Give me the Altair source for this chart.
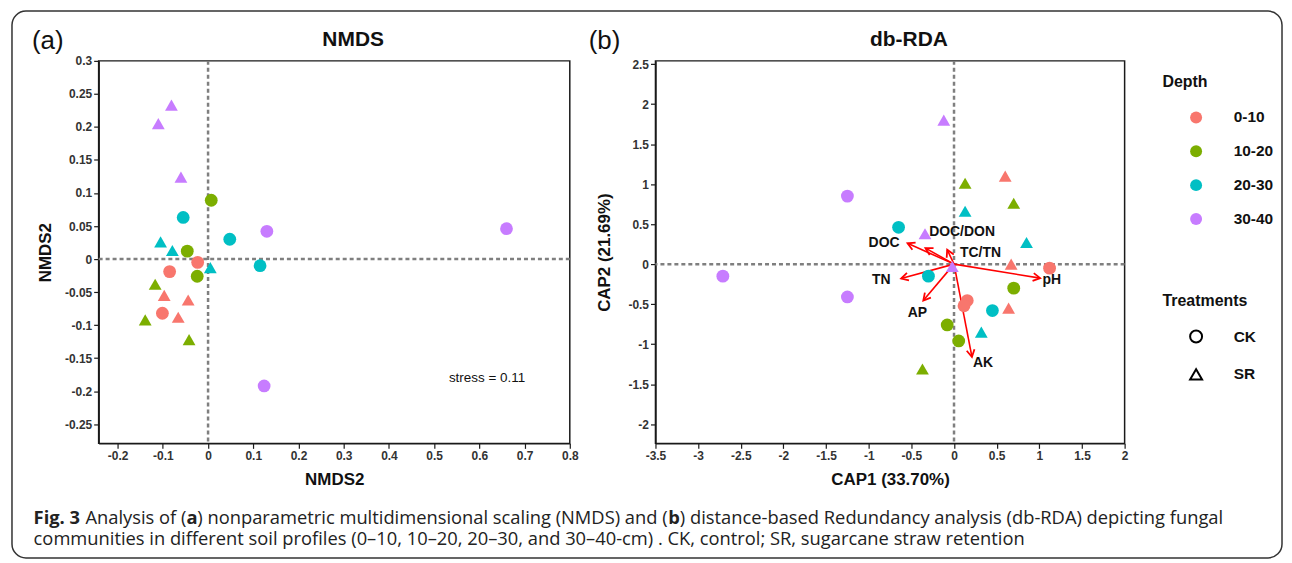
import math
import altair as alt
import pandas as pd

# ---------------- data ----------------
DEPTHS = ["0-10", "10-20", "20-30", "30-40"]
TREATMENTS = ["CK", "SR"]
DEPTH_COLORS = ["#F8766D", "#7CAE00", "#00BFC4", "#C77CFF"]

# 24 samples: 3 replicates per depth x treatment, in this order
SAMPLE_DEPTH = [d for d in DEPTHS for _ in range(6)]
SAMPLE_TREAT = [t for d in DEPTHS for t in TREATMENTS for _ in range(3)]

NMDS_X = [-0.023, -0.085, -0.101, -0.097, -0.044, -0.066,
          0.007, -0.046, -0.024, -0.117, -0.139, -0.042,
          -0.055, 0.048, 0.115, -0.105, -0.079, 0.005,
          0.130, 0.124, 0.660, -0.081, -0.110, -0.060]
NMDS_Y = [-0.005, -0.019, -0.082, -0.055, -0.062, -0.088,
          0.089, 0.012, -0.026, -0.038, -0.092, -0.122,
          0.063, 0.030, -0.010, 0.026, 0.013, -0.013,
          0.042, -0.192, 0.046, 0.233, 0.205, 0.124]

CAP1 = [1.12, 0.155, 0.117, 0.60, 0.67, 0.64,
        0.70, -0.08, 0.055, 0.13, 0.70, -0.37,
        -0.65, -0.30, 0.45, 0.13, 0.85, 0.32,
        -1.25, -2.71, -1.25, -0.12, -0.34, -0.02]
CAP2 = [-0.05, -0.455, -0.52, 1.10, 0.00, -0.55,
        -0.30, -0.76, -0.96, 1.01, 0.76, -1.31,
        0.46, -0.15, -0.58, 0.66, 0.27, -0.85,
        0.85, -0.15, -0.41, 1.80, 0.38, -0.03]

ENV_VARS = ["DOC", "DOC/DON", "TC/TN", "TN", "AP", "AK", "pH"]
ENV_X = [-0.545, -0.335, -0.08, -0.62, -0.36, 0.21, 1.01]
ENV_Y = [0.26, 0.20, 0.18, -0.18, -0.455, -1.16, -0.175]
ENV_LABEL_X = [-0.82, 0.094, 0.31, -0.853, -0.43, 0.34, 1.145]
ENV_LABEL_Y = [0.27, 0.405, 0.145, -0.194, -0.61, -1.23, -0.194]

NMDS_XTICKS = [-0.2, -0.1, 0, 0.1, 0.2, 0.3, 0.4, 0.5, 0.6, 0.7, 0.8]
NMDS_YTICKS = [-0.25, -0.2, -0.15, -0.1, -0.05, 0, 0.05, 0.1, 0.15, 0.2, 0.25, 0.3]
CAP_XTICKS = [-3.5, -3, -2.5, -2, -1.5, -1, -0.5, 0, 0.5, 1, 1.5, 2]
CAP_YTICKS = [-2, -1.5, -1, -0.5, 0, 0.5, 1, 1.5, 2, 2.5]

NMDS_XDOM = [-0.242, 0.8]
NMDS_YDOM = [-0.279, 0.3]
CAP_XDOM = [-3.5, 2.0]
CAP_YDOM = [-2.24, 2.54]

CAPTION_LINE1 = ["Fig. 3", "Analysis of (", "a",
                 ") nonparametric multidimensional scaling (NMDS) and (", "b",
                 ") distance-based Redundancy analysis (db-RDA) depicting fungal"]
CAPTION_LINE1_BOLD = [True, False, True, False, True, False]
CAPTION_LINE2 = ("communities in different soil profiles (0\u201310, 10\u201320, 20\u201330, "
                 "and 30\u201340-cm) . CK, control; SR, sugarcane straw retention")

# ---------------- layout ----------------
PW_A, PW_B, PH = 473, 471, 384
FONT = "Liberation Sans"
CAP_FONT = "Open Sans"
CAP_SIZE = 18.4

one = pd.DataFrame({"k": [0]})


def make_axis(ticks, title, pad):
    return alt.Axis(values=ticks, title=title, labelExpr="'' + datum.value",
                    titlePadding=pad, labelOverlap=False, labelFlush=False,
                    labelSeparation=0, tickCount=len(ticks))


def xenc(field, dom, ticks, title, datum=None):
    kw = dict(type="quantitative", scale=alt.Scale(domain=dom, nice=False, zero=False),
              axis=make_axis(ticks, title, 10))
    if datum is not None:
        return alt.X(datum=datum, **kw)
    return alt.X(field, **kw)


def yenc(field, dom, ticks, title, pad, datum=None):
    kw = dict(type="quantitative", scale=alt.Scale(domain=dom, nice=False, zero=False),
              axis=make_axis(ticks, title, pad))
    if datum is not None:
        return alt.Y(datum=datum, **kw)
    return alt.Y(field, **kw)


color_enc = alt.Color("depth:N", scale=alt.Scale(domain=DEPTHS, range=DEPTH_COLORS),
                      legend=alt.Legend(title="Depth", orient="none", legendX=1068, legendY=13,
                                        symbolType="circle", symbolSize=144, symbolOffset=26,
                                        labelOffset=30, rowPadding=17, titlePadding=20,
                                        padding=0, direction="vertical"))
shape_enc = alt.Shape("treatment:N",
                      scale=alt.Scale(domain=TREATMENTS, range=["circle", "triangle-up"]),
                      legend=alt.Legend(title="Treatments", orient="none", legendX=1068,
                                        legendY=233, symbolSize=144, symbolOffset=26,
                                        labelOffset=30, rowPadding=18, titlePadding=20,
                                        padding=0, direction="vertical",
                                        symbolFillColor="transparent", symbolStrokeColor="black",
                                        symbolStrokeWidth=2))


def caption_layers():
    # positions are relative to panel (a)'s plot origin
    cap_x = [-65.3, -13.3, 88.2, 99.1, 571.9, 583.5]
    layers = [alt.Chart(one).mark_rect(filled=False, stroke="#333333", strokeWidth=1.5,
                                       cornerRadius=14).encode(
        x=alt.value(-87), x2=alt.value(1188), y=alt.value(-50), y2=alt.value(499))]
    for txt, bold, xx in zip(CAPTION_LINE1, CAPTION_LINE1_BOLD, cap_x):
        layers.append(alt.Chart(one).mark_text(
            font=CAP_FONT, fontSize=CAP_SIZE, fontWeight="bold" if bold else "normal",
            align="left", baseline="alphabetic", color="#222").encode(
            x=alt.value(xx), y=alt.value(465), text=alt.value(txt)))
    layers.append(alt.Chart(one).mark_text(
        font=CAP_FONT, fontSize=CAP_SIZE, align="left", baseline="alphabetic",
        color="#222").encode(
        x=alt.value(-65.3), y=alt.value(486), text=alt.value(CAPTION_LINE2)))
    return layers


def panel(xs, ys, xdom, ydom, xticks, yticks, xtitle, ytitle, ypad, width, letter, title,
          extra):
    df = pd.DataFrame({"x": xs, "y": ys, "depth": SAMPLE_DEPTH, "treatment": SAMPLE_TREAT})
    X = xenc("x", xdom, xticks, xtitle)
    Y = yenc("y", ydom, yticks, ytitle, ypad)
    pts = alt.Chart(df).mark_point(filled=True, size=165, opacity=1).encode(
        x=X, y=Y, color=color_enc, shape=shape_enc)
    vline = alt.Chart(one).mark_rule(color="#7f7f7f", strokeDash=[4, 3], strokeWidth=2.5).encode(
        x=xenc("x", xdom, xticks, xtitle, datum=0))
    hline = alt.Chart(one).mark_rule(color="#7f7f7f", strokeDash=[4, 3], strokeWidth=2.5).encode(
        y=yenc("y", ydom, yticks, ytitle, ypad, datum=0))
    let = alt.Chart(one).mark_text(font=FONT, fontSize=26, align="left", baseline="middle",
                                   color="#111").encode(
        x=alt.value(-67), y=alt.value(-20), text=alt.value(letter))
    ttl = alt.Chart(one).mark_text(font=FONT, fontSize=21, fontWeight="bold", align="center",
                                   baseline="middle", color="#111").encode(
        x=alt.value(width / 2 + 19), y=alt.value(-21), text=alt.value(title))
    layers = [vline, hline] + extra(X, Y) + [pts, let, ttl]
    return alt.layer(*layers).properties(
        width=width, height=PH, view=alt.ViewBackground(stroke="#1a1a1a", strokeWidth=1.5))


def extra_a(X, Y):
    s = pd.DataFrame({"x": [0.617], "y": [-0.18], "t": ["stress = 0.11"]})
    return [alt.Chart(s).mark_text(font=FONT, fontSize=13.5, color="#111").encode(
        x=X, y=Y, text="t:N")] + caption_layers()


sx = PW_B / (CAP_XDOM[1] - CAP_XDOM[0])
sy = PH / (CAP_YDOM[1] - CAP_YDOM[0])
ENV_ANGLE = [math.degrees(math.atan2(ex * sx, ey * sy)) % 360 for ex, ey in zip(ENV_X, ENV_Y)]


def extra_b(X, Y):
    seg = pd.DataFrame({"x": [0.0] * len(ENV_X), "y": [0.0] * len(ENV_Y),
                        "x2": ENV_X, "y2": ENV_Y})
    heads = pd.DataFrame({"x": ENV_X, "y": ENV_Y, "ang": ENV_ANGLE})
    labs = pd.DataFrame({"x": ENV_LABEL_X, "y": ENV_LABEL_Y, "t": ENV_VARS})
    rule = alt.Chart(seg).mark_rule(color="#ff0000", strokeWidth=1.6).encode(
        x=X, y=Y, x2="x2:Q", y2="y2:Q")
    head = alt.Chart(heads).mark_point(shape="M -0.5 0.9 L 0 0 L 0.5 0.9", filled=False,
                                       size=250, strokeWidth=1.8, color="#ff0000",
                                       opacity=1).encode(
        x=X, y=Y, angle=alt.Angle("ang:Q", scale=None))
    txt = alt.Chart(labs).mark_text(font=FONT, fontSize=14, fontWeight="bold",
                                    color="#111").encode(x=X, y=Y, text="t:N")
    return [rule, head, txt]


pa = panel(NMDS_X, NMDS_Y, NMDS_XDOM, NMDS_YDOM, NMDS_XTICKS, NMDS_YTICKS,
           "NMDS2", "NMDS2", 10, PW_A, "(a)", "NMDS", extra_a)
pb = panel(CAP1, CAP2, CAP_XDOM, CAP_YDOM, CAP_XTICKS, CAP_YTICKS,
           "CAP1 (33.70%)", "CAP2 (21.69%)", 14, PW_B, "(b)", "db-RDA", extra_b)

chart = alt.hconcat(pa, pb, spacing=86, bounds="flush").properties(
    padding={"left": 2, "top": 0, "right": 0, "bottom": 0}
).configure_view(stroke="transparent").configure_axis(
    grid=False, domainColor="#1a1a1a", domainWidth=1.5, tickColor="#1a1a1a", tickWidth=1.2,
    tickSize=5, labelFont=FONT, labelFontWeight="bold", labelFontSize=12, labelColor="#333",
    labelPadding=2, titleFont=FONT, titleFontSize=17, titleFontWeight="bold",
    titleColor="#111", labelOverlap=False
).configure_legend(
    titleFont=FONT, titleFontSize=16, titleFontWeight="bold", titleColor="#111",
    labelFont=FONT, labelFontSize=15.5, labelFontWeight="bold", labelColor="#111"
)

chart.save("out.html", embed_options={"renderer": "svg", "actions": False})
